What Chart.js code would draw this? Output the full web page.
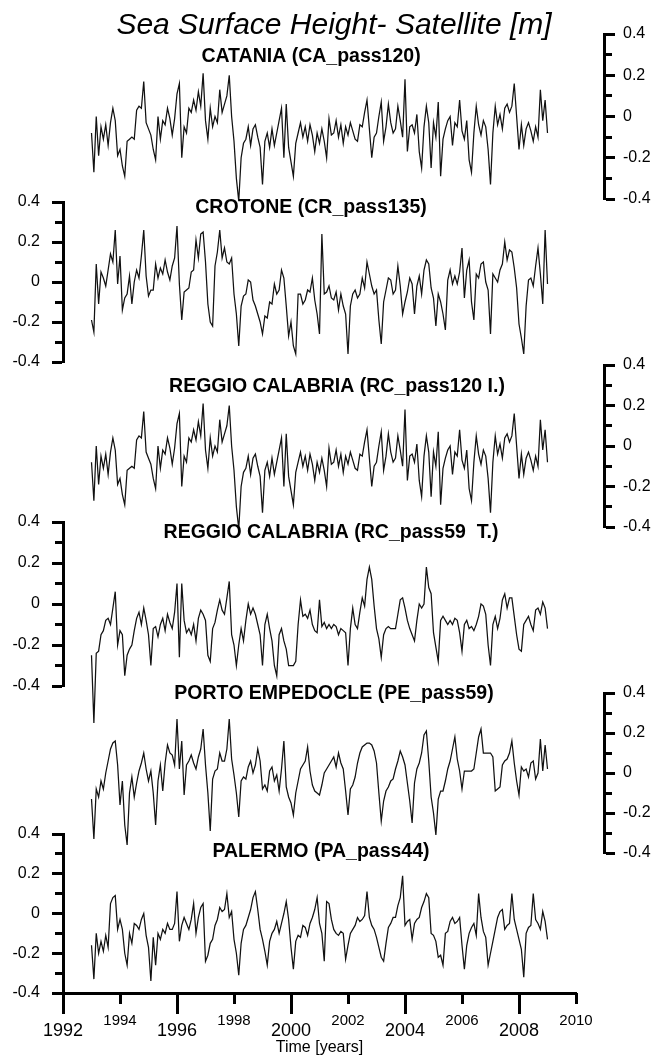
<!DOCTYPE html>
<html>
<head>
<meta charset="utf-8">
<script src="https://cdn.jsdelivr.net/npm/chart.js@4/dist/chart.umd.min.js"></script>
<style>
html,body{margin:0;padding:0;background:#fff;}
#wrap{position:relative;width:656px;height:1061px;overflow:hidden;background:#fff;}
#wrap canvas{position:absolute;left:0;top:0;}
</style>
</head>
<body>
<div id="wrap"></div>
<script>
// ---------------- DATA ----------------
const startYear = 1993;          // first sample
const samplesPerYear = 12;       // monthly readings from the figure
const xMajorYears = [1992, 1996, 2000, 2004, 2008];
const xMinorYears = [1994, 1998, 2002, 2006, 2010];
const yMajorTicks = [-0.4, -0.2, 0, 0.2, 0.4];
const yMinorTicks = [-0.3, -0.1, 0.1, 0.3];

const catania = [
-0.08,-0.27,0.00,-0.19,-0.05,-0.11,-0.04,-0.14,-0.03,0.04,-0.02,-0.19,
-0.16,-0.24,-0.29,-0.12,-0.11,-0.10,-0.11,0.03,0.05,0.04,0.17,-0.03,
-0.06,-0.09,-0.16,-0.21,0.00,-0.11,-0.02,-0.04,0.04,-0.01,-0.09,-0.01,
0.11,0.16,-0.20,-0.05,-0.08,0.04,0.02,0.08,0.03,0.12,0.05,0.21,
-0.02,-0.11,0.04,-0.05,0.00,-0.03,0.13,0.02,0.06,0.10,0.20,0.00,
-0.12,-0.30,-0.41,-0.20,-0.13,-0.11,-0.05,-0.14,-0.06,-0.04,-0.10,-0.15,
-0.33,-0.12,-0.08,-0.15,-0.06,-0.14,-0.08,-0.02,0.04,-0.20,0.06,-0.15,
-0.22,-0.29,-0.13,-0.08,-0.03,-0.10,-0.05,-0.12,-0.04,-0.09,-0.17,-0.08,
-0.13,-0.06,-0.12,-0.20,-0.01,-0.09,-0.08,-0.02,-0.10,-0.04,-0.13,-0.05,
-0.09,-0.03,-0.07,-0.11,-0.12,-0.04,-0.05,0.02,0.08,-0.06,-0.20,-0.10,
-0.08,0.00,0.07,-0.12,-0.05,0.06,-0.03,-0.08,-0.06,0.05,-0.02,-0.10,
0.18,-0.17,-0.05,-0.04,-0.08,0.01,-0.17,-0.25,-0.05,0.05,-0.03,-0.25,
-0.03,-0.10,0.07,-0.29,-0.11,-0.06,-0.02,0.00,-0.14,-0.03,-0.05,0.08,
-0.07,-0.11,-0.02,-0.21,-0.27,-0.08,0.05,-0.04,-0.09,-0.02,-0.05,-0.16,
-0.33,-0.08,0.05,-0.04,0.01,-0.06,0.04,0.06,0.02,0.05,0.16,0.00,
-0.16,-0.04,-0.14,-0.06,-0.03,-0.07,-0.12,-0.05,-0.10,0.13,-0.02,0.08,
-0.08];

const crotone = [
-0.19,-0.25,0.09,-0.11,0.05,0.02,-0.02,0.06,0.14,0.10,0.26,-0.01,
0.13,-0.14,-0.08,-0.06,0.03,-0.11,0.00,0.06,0.02,0.13,0.26,0.03,
-0.07,-0.04,-0.04,0.09,0.02,0.07,0.04,0.11,0.05,0.01,0.08,0.12,
0.28,-0.01,-0.19,-0.05,-0.04,-0.03,0.05,0.06,0.21,0.12,0.24,0.25,
0.10,-0.11,-0.20,-0.22,0.08,0.15,0.26,0.12,0.17,0.10,0.09,0.12,
-0.06,-0.16,-0.32,-0.12,-0.07,-0.06,0.01,0.00,-0.09,-0.12,-0.16,-0.20,
-0.26,-0.17,-0.18,-0.10,-0.11,-0.01,-0.06,-0.04,0.06,0.02,-0.12,-0.27,
-0.20,-0.32,-0.36,-0.06,-0.06,-0.11,-0.09,-0.04,-0.05,0.02,-0.09,-0.16,
-0.26,0.24,-0.06,-0.05,-0.02,-0.08,-0.09,-0.05,-0.14,-0.06,-0.12,-0.16,
-0.36,-0.12,-0.06,-0.04,-0.08,-0.06,0.02,-0.03,0.10,0.04,-0.02,-0.06,
-0.04,-0.19,-0.31,-0.10,-0.04,0.02,0.01,-0.06,-0.04,0.08,-0.02,-0.16,
-0.10,-0.05,0.02,-0.01,-0.16,-0.02,0.03,-0.06,0.06,0.11,0.09,-0.03,
-0.08,-0.22,-0.06,-0.10,-0.16,-0.24,0.01,0.06,-0.01,0.03,-0.01,0.05,
0.17,-0.08,0.06,0.11,-0.10,-0.19,0.04,0.02,0.09,0.10,0.00,-0.04,
-0.26,0.04,0.02,0.00,0.06,0.09,0.20,0.11,0.16,0.15,0.07,-0.03,
-0.21,-0.28,-0.36,-0.12,0.01,0.02,-0.02,0.08,0.17,0.04,-0.11,0.26,
-0.01];

const reggioCalabria120 = [
-0.08,-0.27,0.00,-0.19,-0.05,-0.11,-0.04,-0.14,-0.03,0.04,-0.02,-0.19,
-0.16,-0.24,-0.29,-0.12,-0.11,-0.10,-0.11,0.03,0.05,0.04,0.17,-0.03,
-0.06,-0.09,-0.16,-0.21,0.00,-0.11,-0.02,-0.04,0.04,-0.01,-0.09,-0.01,
0.11,0.16,-0.20,-0.05,-0.08,0.04,0.02,0.08,0.03,0.12,0.05,0.21,
-0.02,-0.11,0.04,-0.05,0.00,-0.03,0.13,0.02,0.06,0.10,0.20,0.00,
-0.12,-0.30,-0.41,-0.20,-0.13,-0.11,-0.05,-0.14,-0.06,-0.04,-0.10,-0.15,
-0.33,-0.12,-0.08,-0.15,-0.06,-0.14,-0.08,-0.02,0.04,-0.20,0.06,-0.15,
-0.22,-0.29,-0.13,-0.08,-0.03,-0.10,-0.05,-0.12,-0.04,-0.09,-0.17,-0.08,
-0.13,-0.06,-0.12,-0.20,-0.01,-0.09,-0.08,-0.02,-0.10,-0.04,-0.13,-0.05,
-0.09,-0.03,-0.07,-0.11,-0.12,-0.04,-0.05,0.02,0.08,-0.06,-0.20,-0.10,
-0.08,0.00,0.07,-0.12,-0.05,0.06,-0.03,-0.08,-0.06,0.05,-0.02,-0.10,
0.18,-0.17,-0.05,-0.04,-0.08,0.01,-0.17,-0.25,-0.05,0.05,-0.03,-0.25,
-0.03,-0.10,0.07,-0.29,-0.11,-0.06,-0.02,0.00,-0.14,-0.03,-0.05,0.08,
-0.07,-0.11,-0.02,-0.21,-0.27,-0.08,0.05,-0.04,-0.09,-0.02,-0.05,-0.16,
-0.33,-0.08,0.05,-0.04,0.01,-0.06,0.04,0.06,0.02,0.05,0.16,0.00,
-0.16,-0.04,-0.14,-0.06,-0.03,-0.07,-0.12,-0.05,-0.10,0.13,-0.02,0.08,
-0.08];

const reggioCalabria59 = [
-0.25,-0.58,-0.24,-0.23,-0.15,-0.13,-0.08,-0.07,-0.10,-0.02,0.06,-0.20,
-0.13,-0.15,-0.35,-0.25,-0.22,-0.20,-0.13,-0.07,-0.04,-0.10,-0.02,-0.08,
-0.15,-0.30,-0.12,-0.11,-0.16,-0.10,-0.07,-0.13,-0.05,-0.09,-0.12,-0.04,
0.10,-0.26,0.10,-0.08,-0.14,-0.12,-0.15,-0.10,-0.18,-0.07,-0.03,-0.05,
-0.08,-0.25,-0.28,-0.12,-0.09,-0.03,0.02,-0.03,-0.05,0.03,0.11,-0.15,
-0.20,-0.30,-0.20,-0.12,-0.18,-0.08,0.00,-0.05,-0.02,-0.05,-0.10,-0.15,
-0.30,-0.10,-0.05,-0.12,-0.18,-0.30,-0.35,-0.15,-0.12,-0.18,-0.22,-0.30,
-0.30,-0.30,-0.28,-0.10,0.02,-0.06,-0.05,-0.07,-0.03,-0.10,-0.13,-0.14,
0.02,-0.11,-0.09,-0.12,-0.10,-0.12,-0.10,-0.11,-0.15,-0.12,-0.13,-0.14,
-0.30,-0.12,-0.02,-0.10,-0.12,-0.04,0.03,-0.01,0.12,0.18,0.12,-0.01,
-0.12,-0.17,-0.26,-0.15,-0.12,-0.11,-0.12,-0.12,-0.12,-0.05,0.02,0.03,
-0.02,-0.08,-0.12,-0.15,-0.18,-0.08,0.00,-0.02,0.00,0.18,0.08,0.05,
-0.14,-0.21,-0.28,-0.08,-0.06,-0.08,-0.10,-0.08,-0.10,-0.07,-0.08,-0.14,
-0.23,-0.10,-0.08,-0.12,-0.11,-0.13,-0.10,-0.06,0.00,-0.01,-0.05,-0.20,
-0.30,-0.10,-0.06,-0.12,-0.07,0.02,0.05,-0.02,0.03,0.03,-0.06,-0.15,
-0.22,-0.23,-0.10,-0.08,-0.06,-0.10,-0.13,-0.03,-0.02,-0.05,0.01,-0.02,
-0.12];

const portoEmpedocle = [
-0.13,-0.33,-0.08,-0.12,-0.04,-0.08,0.00,0.06,0.12,0.15,0.16,0.04,
-0.16,-0.04,-0.26,-0.36,-0.10,-0.02,-0.12,-0.05,0.01,0.05,0.10,0.02,
-0.04,0.01,-0.10,-0.26,-0.04,0.04,-0.09,0.05,0.14,0.10,0.09,0.04,
0.27,0.02,0.16,-0.11,0.04,0.06,0.09,0.05,0.02,0.08,0.12,0.22,
0.04,-0.10,-0.29,-0.03,0.01,0.02,0.10,0.06,0.06,0.12,0.27,0.07,
-0.01,-0.10,-0.22,-0.04,-0.02,-0.03,0.03,0.06,0.00,0.04,0.12,0.06,
-0.08,-0.06,-0.09,0.01,0.03,-0.04,-0.01,-0.09,0.02,0.16,-0.07,-0.12,
-0.15,-0.21,-0.10,-0.04,0.02,0.04,0.06,0.13,0.01,-0.06,-0.09,-0.10,
-0.11,-0.06,0.00,0.02,0.04,0.06,0.08,0.03,0.10,0.05,0.02,-0.09,
-0.21,-0.08,-0.06,-0.02,0.05,0.10,0.13,0.14,0.15,0.15,0.14,0.11,
0.05,-0.10,-0.24,-0.14,-0.09,-0.07,-0.04,-0.03,0.02,0.06,0.11,0.08,
0.04,-0.05,-0.14,-0.25,-0.05,0.02,0.05,0.10,0.19,0.21,0.06,-0.12,
-0.20,-0.31,-0.13,-0.09,-0.09,-0.04,0.02,0.06,0.12,0.18,0.07,0.01,
-0.08,0.01,0.01,0.01,0.01,0.02,0.10,0.18,0.22,0.10,0.10,0.10,
0.10,0.08,-0.09,-0.08,-0.07,0.04,0.06,0.07,0.10,0.16,0.05,-0.04,
-0.11,0.03,0.01,0.02,-0.02,0.05,0.06,-0.03,0.00,0.17,0.01,0.14,
0.02];

const palermo = [
-0.16,-0.33,-0.10,-0.20,-0.14,-0.19,-0.11,-0.17,0.05,0.08,0.09,-0.08,
-0.03,-0.08,-0.20,-0.26,-0.10,-0.15,-0.05,-0.06,-0.08,-0.03,0.00,-0.11,
-0.17,-0.34,-0.12,-0.26,-0.10,-0.13,-0.08,-0.10,-0.05,-0.08,-0.08,-0.05,
0.11,-0.14,-0.06,-0.02,-0.05,-0.08,-0.03,0.05,-0.10,-0.02,0.03,0.05,
-0.24,-0.21,-0.15,-0.13,-0.06,-0.03,0.03,0.01,0.02,0.10,-0.02,0.01,
-0.13,-0.20,-0.31,-0.15,-0.08,-0.06,-0.02,0.02,0.08,0.11,0.02,-0.08,
-0.13,-0.19,-0.26,-0.14,-0.10,-0.08,-0.04,-0.10,-0.05,0.00,0.06,-0.03,
-0.17,-0.28,-0.14,-0.11,-0.12,-0.06,-0.07,-0.11,-0.05,-0.02,0.02,0.08,
-0.05,-0.10,-0.24,0.06,0.05,-0.03,-0.08,-0.10,-0.11,-0.09,-0.10,-0.23,
-0.16,-0.10,-0.08,-0.06,-0.02,-0.04,-0.03,-0.01,0.11,-0.02,-0.06,-0.08,
-0.12,-0.17,-0.22,-0.24,-0.15,-0.07,-0.05,-0.02,-0.02,0.04,0.08,0.19,
-0.06,-0.04,-0.03,-0.13,-0.05,-0.03,-0.02,0.03,0.06,0.10,0.08,-0.10,
-0.11,-0.14,-0.22,-0.21,-0.26,-0.10,-0.09,-0.04,-0.02,-0.05,-0.04,-0.02,
-0.16,-0.28,-0.16,-0.10,-0.07,-0.05,-0.11,0.10,-0.02,-0.09,-0.12,-0.26,
-0.20,-0.14,-0.08,-0.02,0.01,0.02,-0.08,-0.06,-0.05,0.10,-0.03,-0.08,
-0.13,-0.18,-0.32,-0.10,-0.07,-0.06,0.10,-0.03,-0.05,-0.08,0.01,-0.04,
-0.13];

const mainTitle = 'Sea Surface Height- Satellite [m]';
const xAxisTitle = 'Time [years]';
const stationNames = {
  ca: 'CATANIA (CA_pass120)',
  cr: 'CROTONE (CR_pass135)',
  rc120: 'REGGIO CALABRIA (RC_pass120 I.)',
  rc59: 'REGGIO CALABRIA (RC_pass59  T.)',
  pe: 'PORTO EMPEDOCLE (PE_pass59)',
  pa: 'PALERMO (PA_pass44)'
};

// ---------------- LAYOUT ----------------
const W = 656, H = 1061;
const X_LEFT = 63, X_RIGHT = 576, RIGHT_AXIS_X = 604;
const X_MIN = 1992, X_MAX = 2010;
const RIGHT_AXIS_VALUE = X_MIN + (RIGHT_AXIS_X - X_LEFT) / (X_RIGHT - X_LEFT) * (X_MAX - X_MIN);
const FONT = "'Liberation Sans', Arial, Helvetica, sans-serif";
const INK = '#000';
const PANEL_FONT = 19.5, MAIN_FONT = 30;

// texts: [text, centerY, fontSize, style]
const panels = [
  {values: catania, side: 'right', yTop: 34, yBottom: 199, centerX: 328, texts: []},
  {values: crotone, side: 'left', yTop: 202, yBottom: 362, centerX: 311,
    texts: [[stationNames.ca, 57, PANEL_FONT, 'bold'], [stationNames.cr, 208, PANEL_FONT, 'bold']]},
  {values: reggioCalabria120, side: 'right', yTop: 365, yBottom: 527, centerX: 337,
    texts: [[stationNames.rc120, 387, PANEL_FONT, 'bold']]},
  {values: reggioCalabria59, side: 'left', yTop: 522, yBottom: 686, centerX: 331,
    texts: [[stationNames.rc59, 533, PANEL_FONT, 'bold']]},
  {values: portoEmpedocle, side: 'right', yTop: 693, yBottom: 853, centerX: 334,
    texts: [[mainTitle, 26, MAIN_FONT, 'italic'], [stationNames.pe, 694, PANEL_FONT, 'bold']]},
  {values: palermo, side: 'left', yTop: 834, yBottom: 993, centerX: 321, xAxis: true,
    texts: [[stationNames.pa, 852, PANEL_FONT, 'bold']]}
];

function ticksFrom(list) { return s => { s.ticks = list.map(v => ({value: v})); }; }
function fixW(w) { return s => { s.width = w; }; }
function fixH(h) { return s => { s.height = h; }; }
function spacer(position, weight, width) {
  return {type: 'linear', position, weight, display: true,
    ticks: {display: false}, grid: {display: false}, border: {display: false},
    afterFit: fixW(width)};
}
function textBox(t, boxTop) {
  const [text, cy, size, style] = t;
  const lh = size * 1.2;
  const a = cy - boxTop - lh / 2;
  return {display: true, text, color: INK, fullSize: true, align: 'center',
    font: {family: FONT, size, lineHeight: 1.2,
      style: style === 'italic' ? 'italic' : 'normal',
      weight: style === 'bold' ? 'bold' : 'normal'},
    padding: {top: a, bottom: -lh - a}};
}

function buildConfig(p) {
  const left = p.side === 'left';
  let L = 0, R = 0;
  const d = 2 * p.centerX - W;
  if (d >= 0) L = d; else R = -d;

  const points = p.values.map((v, i) => ({x: startYear + i / samplesPerYear, y: v}));

  const yMajor = {
    type: 'linear', position: p.side, weight: 2, min: -0.4, max: 0.4,
    afterBuildTicks: ticksFrom(yMajorTicks),
    afterFit: fixW(left ? X_LEFT - L : W - RIGHT_AXIS_X - R),
    ticks: {autoSkip: false, color: INK, padding: left ? 12 : 8, font: {family: FONT, size: 16},
      callback: v => (Math.abs(v) < 1e-9 ? '0' : v.toFixed(1))},
    grid: {drawOnChartArea: false, drawTicks: true, tickLength: 11, tickWidth: 3, tickColor: INK},
    border: {display: true, width: 3, color: INK}
  };
  const yMinor = {
    type: 'linear', position: {x: left ? X_MIN : RIGHT_AXIS_VALUE}, min: -0.4, max: 0.4,
    afterBuildTicks: ticksFrom(yMinorTicks),
    afterFit: fixW(0),
    ticks: {display: false},
    grid: {drawOnChartArea: false, drawTicks: true, tickLength: left ? 8 : -8, tickWidth: 3, tickColor: INK},
    border: {display: false}
  };

  const scales = {y: yMajor, yMinor: yMinor};
  if (left) {
    scales.ySpacerR = spacer('right', 0, (W - X_RIGHT) - R);
  } else {
    scales.ySpacerL = spacer('left', 0, X_LEFT - L);
    scales.ySpacerR = spacer('right', 0, RIGHT_AXIS_X - X_RIGHT);
  }

  let padBottom = H - p.yBottom;
  if (p.xAxis) {
    padBottom = 0;
    scales.x = {
      type: 'linear', position: 'bottom', weight: 1, min: X_MIN, max: X_MAX,
      afterBuildTicks: ticksFrom(xMajorYears),
      afterFit: fixH(H - p.yBottom),
      ticks: {autoSkip: false, maxRotation: 0, color: INK, padding: 6, font: {family: FONT, size: 18},
        callback: v => String(v)},
      grid: {drawOnChartArea: false, drawTicks: true, tickLength: 21, tickWidth: 3, tickColor: INK},
      border: {display: true, width: 3, color: INK},
      title: {display: true, text: xAxisTitle, color: INK, font: {family: FONT, size: 16}, padding: {top: 0, bottom: 4}}
    };
    scales.x2 = {
      type: 'linear', position: {y: -0.4}, min: X_MIN, max: X_MAX,
      afterBuildTicks: ticksFrom(xMinorYears),
      afterFit: fixH(0),
      ticks: {autoSkip: false, maxRotation: 0, color: INK, padding: 8, font: {family: FONT, size: 15},
        callback: v => String(v)},
      grid: {drawOnChartArea: false, drawTicks: true, tickLength: 11, tickWidth: 3, tickColor: INK},
      border: {display: false}
    };
  } else {
    scales.x = {type: 'linear', position: 'bottom', min: X_MIN, max: X_MAX, display: false};
  }

  const plugins = {
    legend: {display: false},
    tooltip: {enabled: false},
    title: p.texts[0] ? textBox(p.texts[0], p.yTop) : {display: false},
    subtitle: p.texts[1] ? textBox(p.texts[1], p.yTop) : {display: false}
  };

  return {
    type: 'line',
    data: {datasets: [{
      data: points, xAxisID: 'x', yAxisID: 'y',
      borderColor: '#111', borderWidth: 1.25, pointRadius: 0, tension: 0,
      fill: false, clip: false
    }]},
    options: {
      responsive: false, animation: false, devicePixelRatio: 1, events: [],
      layout: {autoPadding: false, padding: {top: p.yTop, bottom: padBottom, left: L, right: R}},
      plugins, scales
    }
  };
}

const wrap = document.getElementById('wrap');
panels.forEach(p => {
  const c = document.createElement('canvas');
  c.width = W; c.height = H;
  c.style.width = W + 'px'; c.style.height = H + 'px';
  wrap.appendChild(c);
  new Chart(c, buildConfig(p));
});
</script>
</body>
</html>
